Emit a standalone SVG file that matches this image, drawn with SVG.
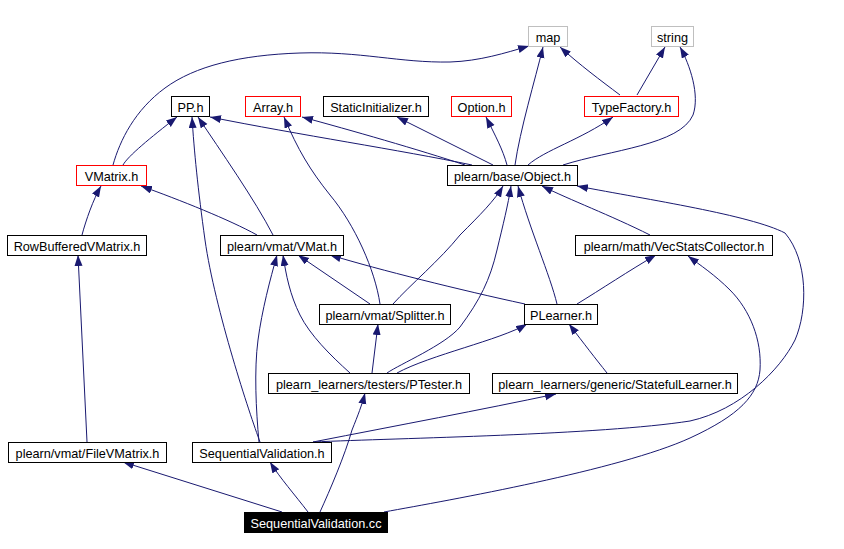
<svg xmlns="http://www.w3.org/2000/svg" width="844" height="549" viewBox="0 0 844 549">
<defs>
<marker id="ah" markerUnits="userSpaceOnUse" markerWidth="12" markerHeight="9" refX="11" refY="4" orient="auto">
<path d="M0,0 L11,4 L0,8 z" fill="#191970" stroke="none"/>
</marker>
<style>
.n rect{fill:#fff;stroke:#000;stroke-width:1}
.n.red rect{stroke:#ff0000}
.n.gray rect{stroke:#bfbfbf}
.n.cur rect{fill:#000;stroke:#000}
.n text{font-family:"Liberation Sans",Arial,sans-serif;font-size:12.7px;fill:#000;text-anchor:middle}
.n.cur text{fill:#fff}
#edges path{fill:none;stroke:#191970;stroke-width:1;marker-end:url(#ah)}
</style>
</defs>
<rect width="844" height="549" fill="#fff"/>
<g id="edges">
<path d="M113,165 C120,140 135,110 165,88 C195,66 240,55 300,53 C360,51 400,63 450,62 C480,61 505,53 529,46"/>
<path d="M123,165 C128,156 150,138 177,117"/>
<path d="M472,165 C400,150 300,135 210,117"/>
<path d="M465,165 C420,150 350,130 302,117"/>
<path d="M493,165 L397,117"/>
<path d="M507,165 C503,150 495,135 486,117"/>
<path d="M515,165 C520,130 535,80 543,47"/>
<path d="M528,165 C545,150 580,140 613,117"/>
<path d="M563,165 C610,150 680,145 693,115 C700,95 690,65 680,47"/>
<path d="M620,95 C600,80 580,65 560,47"/>
<path d="M637,95 L665,47"/>
<path d="M82,235 C86,220 93,200 101,186"/>
<path d="M257,235 C230,220 180,200 141,186"/>
<path d="M273,235 C255,200 220,150 198,117"/>
<path d="M260,442 C250,415 215,310 205,240 C198,190 194,150 192,117"/>
<path d="M380,304 C375,270 355,225 330,195 C310,170 298,150 284,117"/>
<path d="M393,304 C410,285 440,260 460,235 C480,215 495,200 503,186"/>
<path d="M387,373 C400,364 445,345 460,327 C480,300 490,280 497,250 C503,225 508,205 511,186"/>
<path d="M557,304 C550,275 530,230 518,186"/>
<path d="M650,235 C610,215 570,200 542,186"/>
<path d="M313,442 C400,438 600,435 690,421 C740,410 780,370 795,340 C808,310 808,260 785,233 C750,215 650,200 577,186"/>
<path d="M313,442 C400,425 480,410 556,394"/>
<path d="M259,442 C256,410 254,370 258,340 C262,310 270,280 277,255"/>
<path d="M350,373 C330,355 310,335 300,315 C290,295 286,275 283,255"/>
<path d="M370,304 L298,255"/>
<path d="M525,304 C460,290 380,270 330,255"/>
<path d="M372,373 L378,324"/>
<path d="M397,373 C430,355 500,340 527,324"/>
<path d="M607,373 C595,358 585,345 569,324"/>
<path d="M577,304 C600,290 630,270 656,255"/>
<path d="M87,442 L78,255"/>
<path d="M282,512 L123,462"/>
<path d="M308,512 C295,495 280,478 270,462"/>
<path d="M320,512 C330,490 345,455 352,430 C358,415 362,405 365,393"/>
<path d="M384,512 C450,500 620,470 690,438 C740,415 758,395 760,370 C762,340 750,310 730,290 C715,275 700,265 688,256"/>
</g>
<g id="n_map" class="n gray"><rect x="528.5" y="26.5" width="39" height="20"/><text x="548" y="41.5">map</text></g>
<g id="n_string" class="n gray"><rect x="651.5" y="26.5" width="42" height="20"/><text x="672.5" y="41.5">string</text></g>
<g id="n_pp" class="n"><rect x="171.5" y="96.5" width="38" height="20"/><text x="190.5" y="111.5">PP.h</text></g>
<g id="n_array" class="n red"><rect x="245.5" y="96.5" width="55" height="20"/><text x="273" y="111.5">Array.h</text></g>
<g id="n_static" class="n"><rect x="323.5" y="96.5" width="105" height="20"/><text x="376" y="111.5">StaticInitializer.h</text></g>
<g id="n_option" class="n red"><rect x="451.5" y="96.5" width="60" height="20"/><text x="481.5" y="111.5">Option.h</text></g>
<g id="n_typefactory" class="n red"><rect x="584.5" y="96.5" width="94" height="20"/><text x="631.5" y="111.5">TypeFactory.h</text></g>
<g id="n_vmatrix" class="n red"><rect x="76.5" y="165.5" width="70" height="20"/><text x="111.5" y="180.5">VMatrix.h</text></g>
<g id="n_object" class="n"><rect x="447.5" y="165.5" width="130" height="20"/><text x="512.5" y="180.5">plearn/base/Object.h</text></g>
<g id="n_rowbuffered" class="n"><rect x="7.5" y="235.5" width="139" height="20"/><text x="77" y="250.5">RowBufferedVMatrix.h</text></g>
<g id="n_vmat" class="n"><rect x="220.5" y="235.5" width="123" height="20"/><text x="282" y="250.5">plearn/vmat/VMat.h</text></g>
<g id="n_vecstats" class="n"><rect x="575.5" y="235.5" width="197" height="20"/><text x="674" y="250.5">plearn/math/VecStatsCollector.h</text></g>
<g id="n_splitter" class="n"><rect x="319.5" y="304.5" width="131" height="20"/><text x="385" y="319.5">plearn/vmat/Splitter.h</text></g>
<g id="n_plearner" class="n"><rect x="524.5" y="304.5" width="73" height="20"/><text x="561" y="319.5">PLearner.h</text></g>
<g id="n_ptester" class="n"><rect x="268.5" y="373.5" width="201" height="20"/><text x="369" y="388.5">plearn_learners/testers/PTester.h</text></g>
<g id="n_stateful" class="n"><rect x="492.5" y="373.5" width="245" height="20"/><text x="615" y="388.5">plearn_learners/generic/StatefulLearner.h</text></g>
<g id="n_filevmatrix" class="n"><rect x="8.5" y="442.5" width="158" height="20"/><text x="87.5" y="457.5">plearn/vmat/FileVMatrix.h</text></g>
<g id="n_seqvalh" class="n"><rect x="192.5" y="442.5" width="139" height="20"/><text x="262" y="457.5">SequentialValidation.h</text></g>
<g id="n_seqvalcc" class="n cur"><rect x="244.5" y="512.5" width="143" height="20"/><text x="316" y="527.5">SequentialValidation.cc</text></g>
</svg>
